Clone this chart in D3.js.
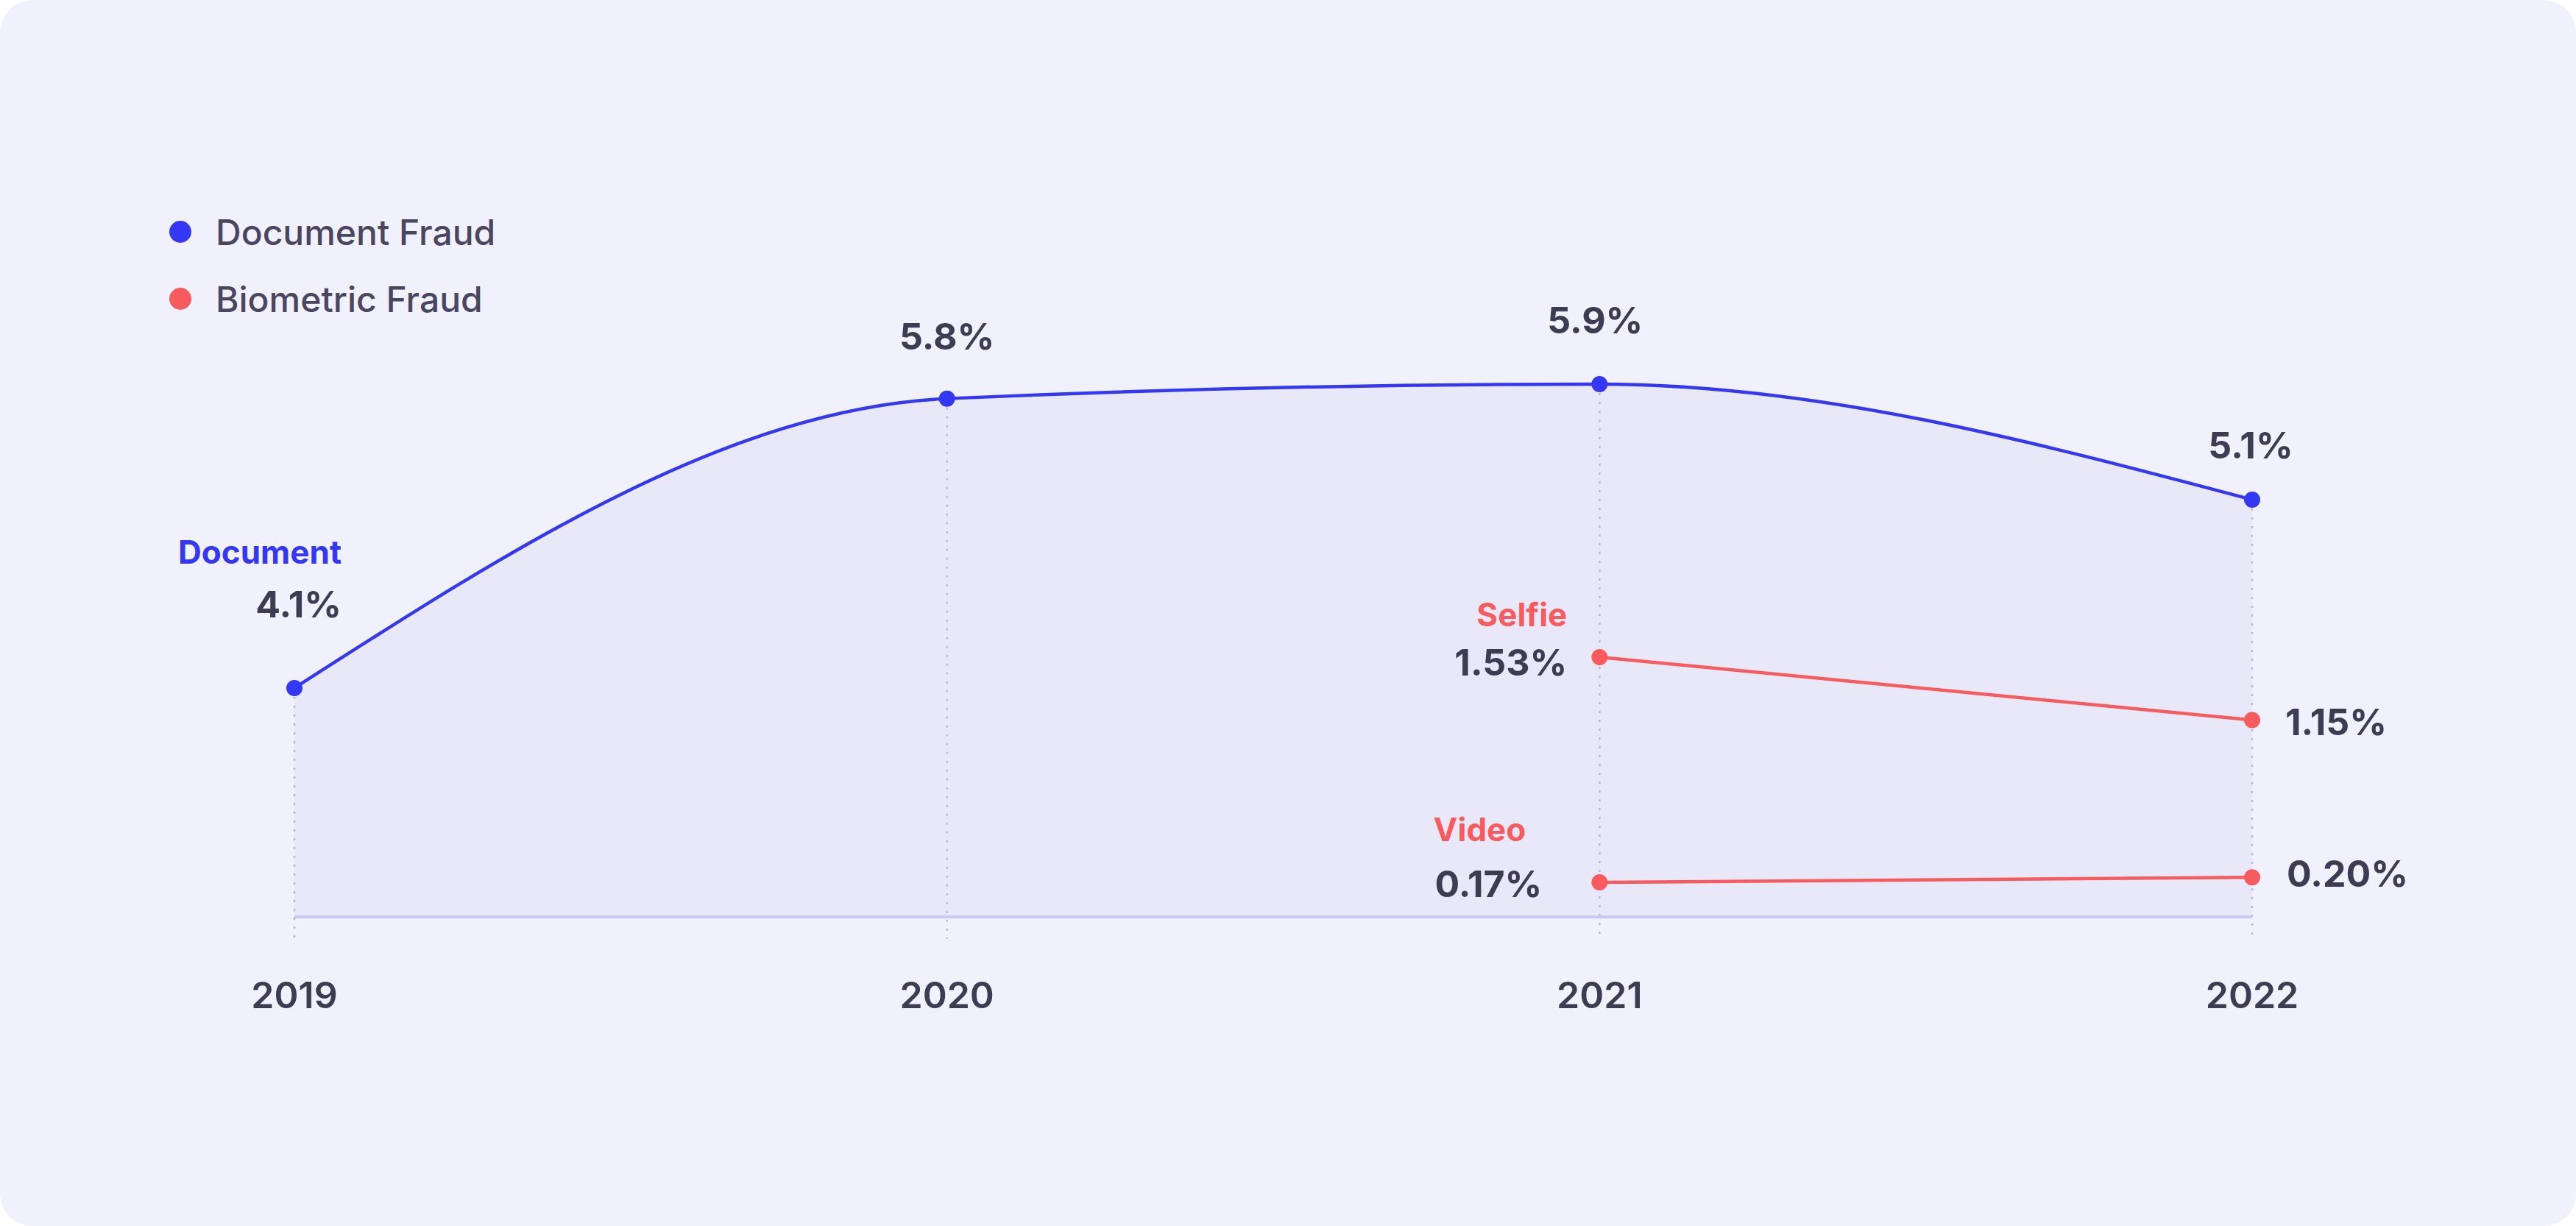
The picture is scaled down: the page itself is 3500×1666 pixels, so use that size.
<!DOCTYPE html>
<html>
<head>
<meta charset="utf-8">
<script src="https://cdn.jsdelivr.net/npm/d3@7"></script>
<style>
  body { margin: 0; background: #fff; }
  svg { display: block; font-family: Inter, "Noto Sans", sans-serif; }
</style>
</head>
<body>
<svg id="chart" width="3500" height="1666"></svg>
<script>
// data
const years = [2019, 2020, 2021, 2022];
const documentFraud = [4.1, 5.8, 5.9, 5.1];
const selfieYears = [2021, 2022];
const selfieFraud = [1.53, 1.15];
const videoYears = [2021, 2022];
const videoFraud = [0.17, 0.20];
const docLabels = ['4.1%', '5.8%', '5.9%', '5.1%'];
const selfieLabels = ['1.53%', '1.15%'];
const videoLabels = ['0.17%', '0.20%'];

const blue = '#3438f2', red = '#f85b5e', ink = '#3f3b52';
const width = 3500, height = 1666;
const baseY = 1246;

const svg = d3.select('#chart');

svg.append('rect')
  .attr('width', width).attr('height', height)
  .attr('rx', 44).attr('fill', '#f1f1fe');

const x = d3.scalePoint().domain(years).range([400, 3060]);
// the picture draws each family on its own (not quite linear) vertical scale
const docY = d3.scaleLinear().domain([4.1, 5.1, 5.9]).range([935, 679, 522]);
const bioY = d3.scaleLinear().domain([0.17, 1.53]).range([1199, 893]);

const docPts = years.map((yr, i) => [x(yr), docY(documentFraud[i])]);
const docCurve = d3.curveMonotoneX;

svg.append('path')
  .attr('d', d3.area().x(d => d[0]).y0(baseY).y1(d => d[1]).curve(docCurve)(docPts))
  .attr('fill', '#e8e8f9');

// dotted guides
svg.append('g').selectAll('line').data(years).join('line')
  .attr('x1', d => x(d)).attr('x2', d => x(d))
  .attr('y1', (d, i) => docY(documentFraud[i])).attr('y2', 1276)
  .attr('stroke', '#b8b6ec').attr('stroke-width', 2.5).attr('stroke-dasharray', '3 9');

// baseline
svg.append('line')
  .attr('x1', x(2019)).attr('x2', x(2022)).attr('y1', baseY).attr('y2', baseY)
  .attr('stroke', '#c9c8f1').attr('stroke-width', 4);

// document line
svg.append('path')
  .attr('d', d3.line().curve(docCurve)(docPts))
  .attr('fill', 'none').attr('stroke', blue).attr('stroke-width', 4.5);

svg.append('g').selectAll('circle').data(docPts).join('circle')
  .attr('cx', d => d[0]).attr('cy', d => d[1]).attr('r', 11).attr('fill', blue);

// biometric lines
function bioSeries(yrs, vals) {
  const pts = yrs.map((yr, i) => [x(yr), bioY(vals[i])]);
  svg.append('path').attr('d', d3.line()(pts))
    .attr('fill', 'none').attr('stroke', red).attr('stroke-width', 4.5);
  svg.append('g').selectAll('circle').data(pts).join('circle')
    .attr('cx', d => d[0]).attr('cy', d => d[1]).attr('r', 11).attr('fill', red);
  return pts;
}
const selfiePts = bioSeries(selfieYears, selfieFraud);
const videoPts = bioSeries(videoYears, videoFraud);

function label(tx, ty, str, opts = {}) {
  svg.append('text')
    .attr('x', tx).attr('y', ty)
    .attr('text-anchor', opts.anchor || 'middle')
    .attr('dominant-baseline', 'central')
    .attr('font-size', opts.size || 50)
    .attr('font-weight', opts.weight || 700)
    .attr('fill', opts.fill || ink)
    .text(str);
}

// document value labels
label(464, 821, docLabels[0], { anchor: 'end' });
label(464, 750, 'Document', { anchor: 'end', fill: blue, size: 44 });
label(docPts[1][0], docPts[1][1] - 85, docLabels[1]);
label(docPts[2][0] - 6, docPts[2][1] - 87, docLabels[2]);
label(docPts[3][0] - 2, docPts[3][1] - 74, docLabels[3]);

// biometric labels
label(selfiePts[0][0] - 44, selfiePts[0][1] + 7, selfieLabels[0], { anchor: 'end' });
label(selfiePts[0][0] - 44, selfiePts[0][1] - 58, 'Selfie', { anchor: 'end', fill: red, size: 44 });
label(selfiePts[1][0] + 45, selfiePts[1][1] + 2, selfieLabels[1], { anchor: 'start' });
label(videoPts[0][0] - 78, videoPts[0][1] + 2, videoLabels[0], { anchor: 'end' });
label(videoPts[0][0] - 100, videoPts[0][1] - 72, 'Video', { anchor: 'end', fill: red, size: 44 });
label(videoPts[1][0] + 47, videoPts[1][1] - 5, videoLabels[1], { anchor: 'start' });

// x axis labels
svg.append('g').selectAll('text').data(years).join('text')
  .attr('x', d => x(d)).attr('y', 1352)
  .attr('text-anchor', 'middle').attr('dominant-baseline', 'central')
  .attr('font-size', 50).attr('font-weight', 600).attr('fill', ink)
  .text(d => d);

// legend
const legend = [['Document Fraud', blue], ['Biometric Fraud', red]];
const lg = svg.append('g').selectAll('g').data(legend).join('g')
  .attr('transform', (d, i) => `translate(245,${315 + i * 91})`);
lg.append('circle').attr('r', 15).attr('fill', d => d[1]);
lg.append('text').attr('x', 48).attr('dominant-baseline', 'central')
  .attr('font-size', 48).attr('font-weight', 500).attr('fill', '#4a4660')
  .text(d => d[0]);
</script>
</body>
</html>
